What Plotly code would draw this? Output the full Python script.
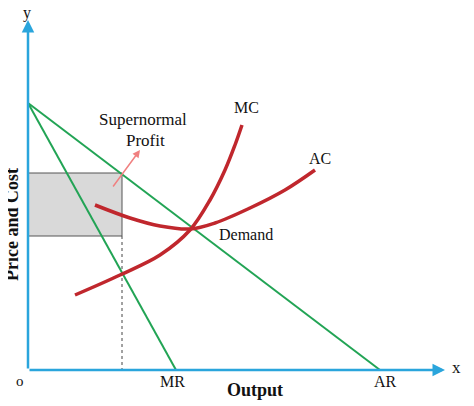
import plotly.graph_objects as go

# pixel-like coordinates (y down)
origin = (28, 370)
ar_x = [28, 380]; ar_y = [103, 370]
mr_x = [28, 176]; mr_y = [103, 370]
mc_x = [75, 120, 160, 190, 210, 225, 235, 242]
mc_y = [295, 275, 255, 230, 200, 170, 145, 125]
ac_x = [95, 130, 160, 190, 215, 250, 285, 315]
ac_y = [205, 218, 226, 229, 223, 208, 190, 170]
rect_x = [28, 122]; rect_y = [173, 236]

red = "#c0272d"; green = "#22a455"; blue = "#2aa5dc"
F = "Liberation Serif"

fig = go.Figure()
fig.add_shape(type="rect", x0=rect_x[0], x1=rect_x[1], y0=rect_y[0], y1=rect_y[1], layer="below",
              fillcolor="#d9d9d9", line=dict(color="#555", width=1))
fig.add_shape(type="line", x0=rect_x[1], x1=rect_x[1], y0=rect_y[1], y1=origin[1], layer="below",
              line=dict(color="#444", width=1, dash="dot"))
fig.add_trace(go.Scatter(x=ar_x, y=ar_y, mode="lines", line=dict(color=green, width=2)))
fig.add_trace(go.Scatter(x=mr_x, y=mr_y, mode="lines", line=dict(color=green, width=2)))
fig.add_trace(go.Scatter(x=mc_x, y=mc_y, mode="lines", line=dict(color=red, width=3.5, shape="spline")))
fig.add_trace(go.Scatter(x=ac_x, y=ac_y, mode="lines", line=dict(color=red, width=3.5, shape="spline")))
# axes
fig.add_annotation(x=28, y=20, ax=28, ay=370, xref="x", yref="y", axref="x", ayref="y",
                   showarrow=True, arrowhead=2, arrowsize=1, arrowwidth=2.5, arrowcolor=blue, text="")
fig.add_annotation(x=445, y=370, ax=28, ay=370, xref="x", yref="y", axref="x", ayref="y",
                   showarrow=True, arrowhead=2, arrowsize=1, arrowwidth=2.5, arrowcolor=blue, text="")
fig.add_annotation(x=140, y=150, ax=112, ay=188, xref="x", yref="y", axref="x", ayref="y",
                   showarrow=True, arrowhead=2, arrowwidth=1.5, arrowcolor="#f08080", text="")
texts = [("y", 27, 13, 16, False), ("x", 456, 367, 17, False), ("o", 20, 381, 15, False),
         ("MR", 172, 381, 16, False), ("AR", 385, 381, 16, False), ("Output", 255, 390, 18, True),
         ("MC", 246, 107, 16, False), ("AC", 320, 158, 16, False), ("Demand", 246, 234, 16, False),
         ("Supernormal", 143, 119, 17, False), ("Profit", 145, 140, 17, False)]
for t, x, y, s, b in texts:
    fig.add_annotation(x=x, y=y, text=f"<b>{t}</b>" if b else t, showarrow=False,
                       font=dict(family=F, size=s, color="#111"))
fig.add_annotation(x=12, y=225, text="<b>Price and Cost</b>", textangle=-90, showarrow=False,
                   font=dict(family=F, size=18, color="#111"))
fig.update_layout(width=474, height=406, margin=dict(l=0, r=0, t=0, b=0),
                  plot_bgcolor="white", paper_bgcolor="white", showlegend=False,
                  xaxis=dict(range=[8, 482], visible=False),
                  yaxis=dict(range=[414, 8], visible=False))
fig.write_html("out.html")
